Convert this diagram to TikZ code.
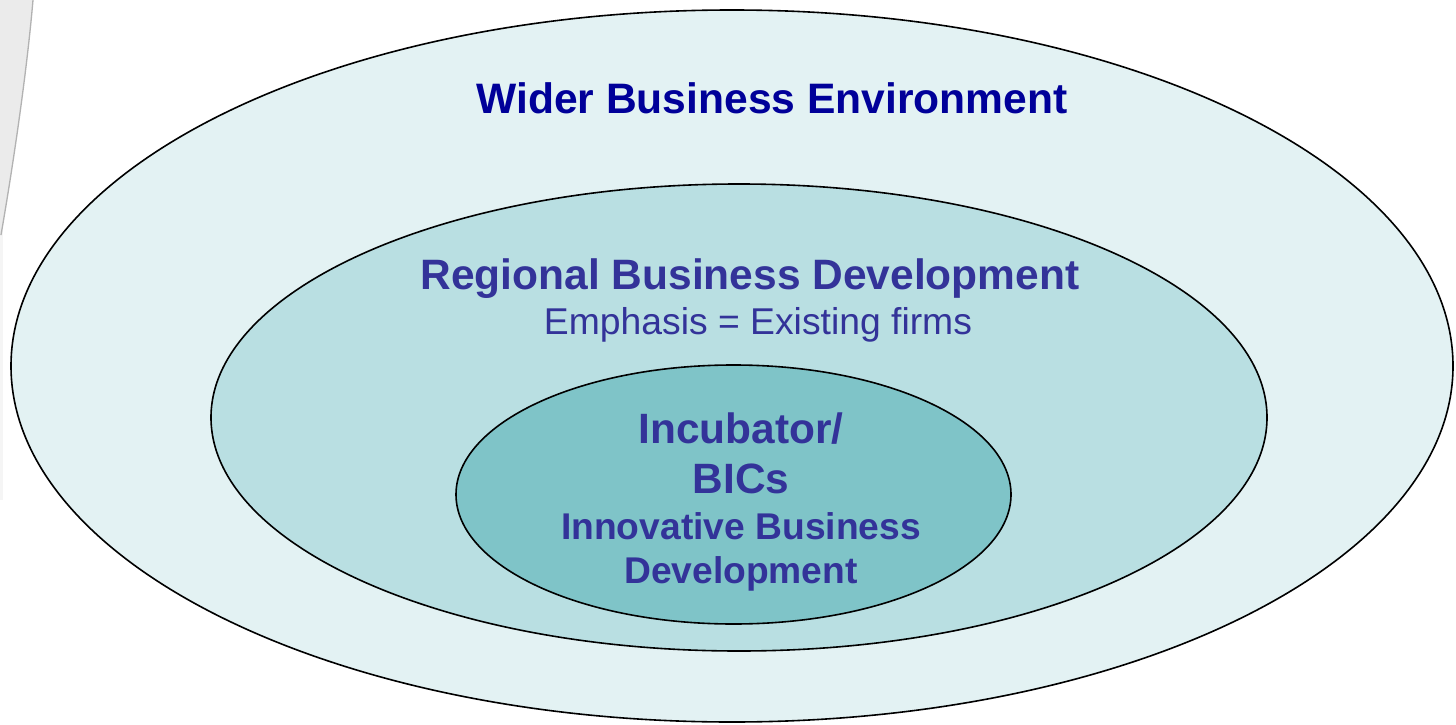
\documentclass[tikz,border=0pt]{standalone}
\usepackage{fontspec}
\setmainfont{Liberation Sans}
\usetikzlibrary{shapes.geometric}
\definecolor{outerfill}{HTML}{E3F2F3}
\definecolor{midfill}{HTML}{B9DFE2}
\definecolor{innerfill}{HTML}{7FC4C8}
\definecolor{darkblue}{HTML}{000099}
\definecolor{textblue}{HTML}{333399}
\tikzset{
  ring/.style={ellipse, draw=black, line width=1.6pt, inner sep=0pt},
  lbl/.style={anchor=base, inner sep=0pt, text=textblue},
}
\begin{document}
\begin{tikzpicture}[x=1pt,y=-1pt]
\useasboundingbox (0,0) rectangle (1456,725);
\fill[white] (0,0) rectangle (1456,725);
% slide edge artifact
\fill[gray!8] (0,230) rectangle (3,500);
\fill[gray!16] (0,0) -- (33,0) .. controls (27,70) and (14,160) .. (1,235) -- (0,235) -- cycle;
\draw[gray!60, line width=1.3pt] (33,0) .. controls (27,70) and (14,160) .. (1,235);
\node[ring, fill=outerfill, minimum width=1442pt, minimum height=712pt] (outer) at (732,366) {};
\node[ring, fill=midfill, minimum width=1056pt, minimum height=467pt] (middle) at (739,417.5) {};
\node[ring, fill=innerfill, minimum width=555pt, minimum height=259pt] (inner) at (733.5,494.5) {};
\node[lbl, text=darkblue, font=\fontsize{42.6}{48}\selectfont\bfseries] (wbe) at (772,113) {Wider Business Environment};
\node[lbl, font=\fontsize{42.5}{45}\selectfont\bfseries] (rbd) at (750,289) {Regional Business Development};
\node[lbl, font=\fontsize{37.3}{42}\selectfont] (emph) at (758,334) {Emphasis = Existing firms};
\node[lbl, font=\fontsize{42.4}{46}\selectfont\bfseries] (inc) at (741,443) {Incubator/};
\node[lbl, font=\fontsize{42.4}{46}\selectfont\bfseries] (bics) at (741,493) {BICs};
\node[lbl, font=\fontsize{37.2}{38}\selectfont\bfseries] (ibd1) at (741,539) {Innovative Business};
\node[lbl, font=\fontsize{37.2}{38}\selectfont\bfseries] (ibd2) at (741,583) {Development};
\end{tikzpicture}
\end{document}
